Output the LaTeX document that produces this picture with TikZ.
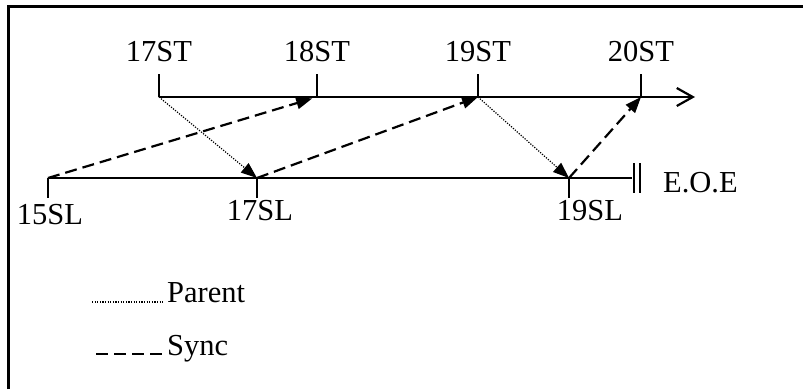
\documentclass[tikz,border=0pt]{standalone}
\usepackage{fontspec}
\setmainfont{Liberation Serif}
\usetikzlibrary{arrows.meta}
\begin{document}
\begin{tikzpicture}[x=1pt,y=-1pt,
  lbl/.style={font=\fontsize{30.5}{34}\selectfont, inner sep=0pt, anchor=base},
  axis/.style={line width=2.2pt},
  tick/.style={line width=2.2pt},
  parentln/.style={line width=1.2pt, dash pattern=on 1.2pt off 1.4pt, -{Triangle[length=16pt,width=12pt]}},
  syncln/.style={line width=2.2pt, dash pattern=on 12pt off 6pt, -{Triangle[length=16pt,width=12pt]}}]
\useasboundingbox (0,0) rectangle (803,389);
% frame (only top and left visible)
\draw[line width=2.8pt] (8.5,389) -- (8.5,6.5) -- (803,6.5);
% points on the top (ST) line
\coordinate (p17ST) at (159,97);
\coordinate (p18ST) at (317,97);
\coordinate (p19ST) at (478,97);
\coordinate (p20ST) at (641,97);
\coordinate (topend) at (695,97);
% points on the bottom (SL) line
\coordinate (p15SL) at (48,178);
\coordinate (p17SL) at (257,178);
\coordinate (p19SL) at (569,178);
\coordinate (botend) at (632,178);
% axes
\draw[axis,-{Straight Barb[length=16pt,width=18pt,line width=2.2pt]}] (p17ST) -- (topend);
\draw[axis] (p15SL) -- (botend);
% ticks
\foreach \p in {p17ST,p18ST,p19ST,p20ST}{\draw[tick] (\p) -- ++(0,-23);}
\foreach \p in {p15SL,p17SL,p19SL}{\draw[tick] (\p) -- ++(0,20);}
% end-of-execution double bar
\coordinate (bar1) at (634,163);
\coordinate (bar2) at (640,163);
\draw[line width=1.8pt] (bar1) -- ++(0,30);
\draw[line width=1.8pt] (bar2) -- ++(0,30);
% labels
\node[lbl] (l17ST) at (159,61) {17ST};
\node[lbl] (l18ST) at (317,61) {18ST};
\node[lbl] (l19ST) at (478,61) {19ST};
\node[lbl] (l20ST) at (641,61) {20ST};
\node[lbl] (l15SL) at (50,224) {15SL};
\node[lbl] (l17SL) at (260,220) {17SL};
\node[lbl] (l19SL) at (590,220) {19SL};
\node[lbl,anchor=base west] (eoe) at (663,192) {E.O.E};
% parent arrows (dotted)
\draw[parentln] (p17ST) -- (p17SL);
\draw[parentln] (p19ST) -- (p19SL);
% sync arrows (dashed)
\draw[syncln,shorten >=5pt] (p15SL) -- (p18ST);
\draw[syncln] (p17SL) -- (p19ST);
\draw[syncln] (p19SL) -- (p20ST);
% legend
\coordinate (lpA) at (92,302);
\coordinate (lpB) at (163,302);
\draw[line width=1.2pt, dash pattern=on 1.2pt off 1.4pt] (lpA) -- (lpB);
\node[lbl,anchor=base west] (parent) at (167,302) {Parent};
\coordinate (lsA) at (96,354);
\coordinate (lsB) at (164,354);
\draw[line width=2.2pt, dash pattern=on 12pt off 6pt] (lsA) -- (lsB);
\node[lbl,anchor=base west] (sync) at (167,355) {Sync};
\end{tikzpicture}
\end{document}
